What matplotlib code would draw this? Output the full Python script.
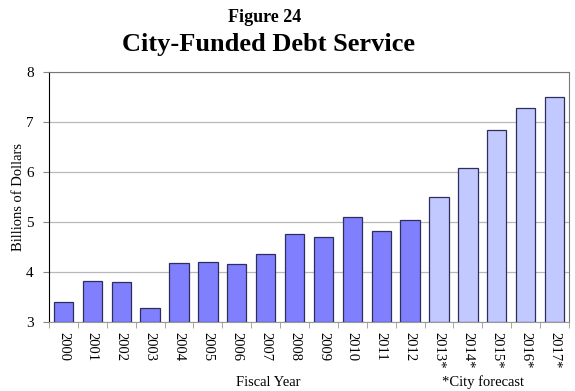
import numpy as np
import matplotlib.pyplot as plt

years = ["2000", "2001", "2002", "2003", "2004", "2005", "2006", "2007", "2008",
         "2009", "2010", "2011", "2012", "2013*", "2014*", "2015*", "2016*", "2017*"]
debt_service = [3.40, 3.83, 3.80, 3.28, 4.19, 4.20, 4.17, 4.36, 4.77,
                4.70, 5.11, 4.83, 5.04, 5.50, 6.08, 6.85, 7.28, 7.50]
is_forecast = [y.endswith("*") for y in years]

plt.rcParams['font.family'] = ['Liberation Serif', 'DejaVu Serif']

fig = plt.figure(figsize=(5.75, 3.91), dpi=100)
ax = fig.add_axes([49 / 575, 1 - 322 / 391, 520 / 575, 250 / 391])

x = np.arange(len(years))
colors = ['#c2c9ff' if f else '#8080ff' for f in is_forecast]
ax.bar(x, [v - 3 for v in debt_service], bottom=3, width=0.67, color=colors,
       edgecolor='#2e2e5c', linewidth=0.9, zorder=3)

ax.set_xlim(-0.5, len(years) - 0.5)
ax.set_ylim(3, 8)
ax.set_yticks([3, 4, 5, 6, 7, 8])
ax.grid(axis='y', color='#b8b8b8', linewidth=0.9, zorder=0)

# x tick marks sit between categories, labels at centres
ax.set_xticks(x)
ax.set_xticklabels(years, rotation=270, fontsize=10.5)
ax.set_xticks(np.arange(-0.5, len(years)), minor=True)
ax.tick_params(axis='x', which='major', length=0, pad=7)
ax.tick_params(axis='x', which='minor', length=4, color='#999999')
ax.tick_params(axis='y', length=4, labelsize=11, pad=7, color='#888888')

ax.spines['left'].set_color('black')
ax.spines['bottom'].set_color('#999999')
ax.spines['top'].set_color('#777777')
ax.spines['right'].set_color('#777777')

ax.set_ylabel("Billions of Dollars", fontsize=10.5, labelpad=1)

fig.text(265 / 575, 1 - 17 / 391, "Figure 24", ha='center', va='center',
         fontsize=13, fontweight='bold')
fig.text(268 / 575, 1 - 44 / 391, "City-Funded Debt Service", ha='center', va='center',
         fontsize=19, fontweight='bold')
fig.text(268 / 575, 1 - 382 / 391, "Fiscal Year", ha='center', va='center', fontsize=10.5)
fig.text(483 / 575, 1 - 382 / 391, "*City forecast", ha='center', va='center', fontsize=10.5)

fig.savefig("out.png", dpi=100)
